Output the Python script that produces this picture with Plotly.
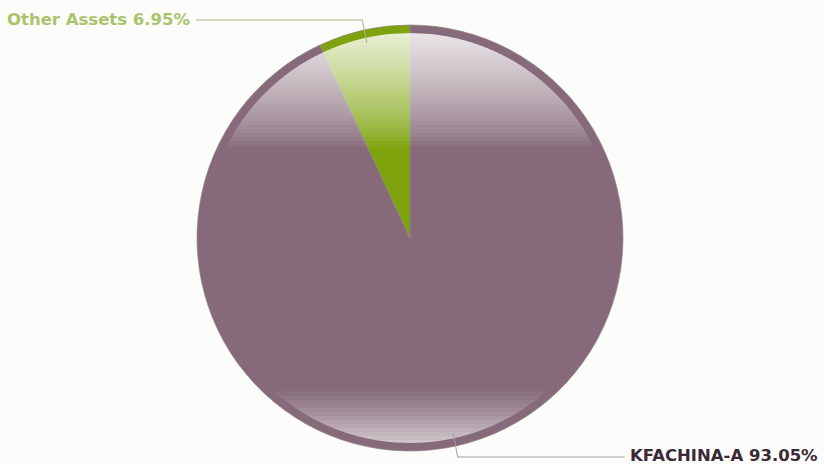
import math
import plotly.graph_objects as go

# ---- data ----
labels = ["KFACHINA-A", "Other Assets"]
values = [93.05, 6.95]
slice_colors = ["#866a79", "#7fa30c"]
text_colors = ["#3b2a35", "#a9c46c"]
line_colors = ["#a0a0a0", "#a9b47c"]

W, H = 824, 464
CX, CY, R = 410, 238, 213   # pie centre / radius in px
R_IN = 205                  # inner radius of the gloss overlay

def px(x):
    return x / W

def py(y):
    return 1 - y / H

fig = go.Figure(go.Pie(
    labels=labels, values=values, sort=False, direction="clockwise",
    rotation=0, textinfo="none", hoverinfo="label+percent",
    marker=dict(colors=slice_colors, line=dict(color="#8e8484", width=0.7)),
    domain=dict(x=[px(CX - R), px(CX + R)], y=[py(CY + R), py(CY - R)]),
    showlegend=False,
))

shapes = []

def strip_path(y0, y1):
    pts_r, pts_l = [], []
    n = 6
    for k in range(n + 1):
        y = y0 + (y1 - y0) * k / n
        dy = y - CY
        w = math.sqrt(R_IN ** 2 - dy ** 2) if abs(dy) < R_IN else 0.0
        pts_r.append((CX + w, y))
        pts_l.append((CX - w, y))
    pts = pts_r + pts_l[::-1]
    return "M " + " L ".join(f"{px(x):.5f},{py(y):.5f}" for x, y in pts) + " Z"

# top gloss
top0, top1 = CY - R_IN, 148
step = 4
y = top0
while y < top1:
    t = (y + step / 2 - top0) / (top1 - top0)
    a = 0.82 * (1 - t) ** 0.75
    shapes.append(dict(type="path", xref="paper", yref="paper",
                       path=strip_path(y, min(y + step, top1)),
                       fillcolor=f"rgba(255,255,255,{a:.3f})", line=dict(width=0),
                       layer="above"))
    y += step

# bottom gloss
bot0, bot1 = 388, CY + R_IN
y = bot0
while y < bot1:
    t = (y + step / 2 - bot0) / (bot1 - bot0)
    a = 0.62 * t ** 1.1
    shapes.append(dict(type="path", xref="paper", yref="paper",
                       path=strip_path(y, min(y + step, bot1)),
                       fillcolor=f"rgba(255,255,255,{a:.3f})", line=dict(width=0),
                       layer="above"))
    y += step

# labels with leader lines computed from slice mid-angles (clockwise from 12 o'clock)
annotations = []
cum = 0.0
total = sum(values)
for i, (lab, v) in enumerate(zip(labels, values)):
    mid = (cum + v / 2) / total * 2 * math.pi
    cum += v
    sx, sy = math.sin(mid), -math.cos(mid)
    x1, y1 = CX + 200 * sx, CY + 200 * sy
    x2 = CX + 220 * sx
    y2 = 20 if sy < 0 else 457
    x3 = x2 - 166 if sx < 0 else x2 + 167
    for (a0, b0, a1, b1) in [(x1, y1, x2, y2), (x2, y2, x3, y2)]:
        shapes.append(dict(type="line", xref="paper", yref="paper",
                           x0=px(a0), y0=py(b0), x1=px(a1), y1=py(b1),
                           line=dict(color=line_colors[i], width=1)))
    annotations.append(dict(
        x=px(x3 - 4) if sx < 0 else px(x3 + 3),
        y=py(y2 - 1.5) if sy > 0 else py(y2 - 0.5), xref="paper", yref="paper",
        text=f"<b>{lab} {v:.2f}%</b>", showarrow=False,
        xanchor="right" if sx < 0 else "left", yanchor="middle",
        font=dict(family="DejaVu Sans", size=16.5, color=text_colors[i]),
    ))

fig.update_layout(
    width=W, height=H, margin=dict(l=0, r=0, t=0, b=0),
    paper_bgcolor="#fcfcfa", plot_bgcolor="#fcfcfa",
    shapes=shapes, annotations=annotations,
)
fig.write_html("out.html", config={"displayModeBar": False},
               post_script="document.body.style.margin='0';document.body.style.background='#fcfcfa';")
